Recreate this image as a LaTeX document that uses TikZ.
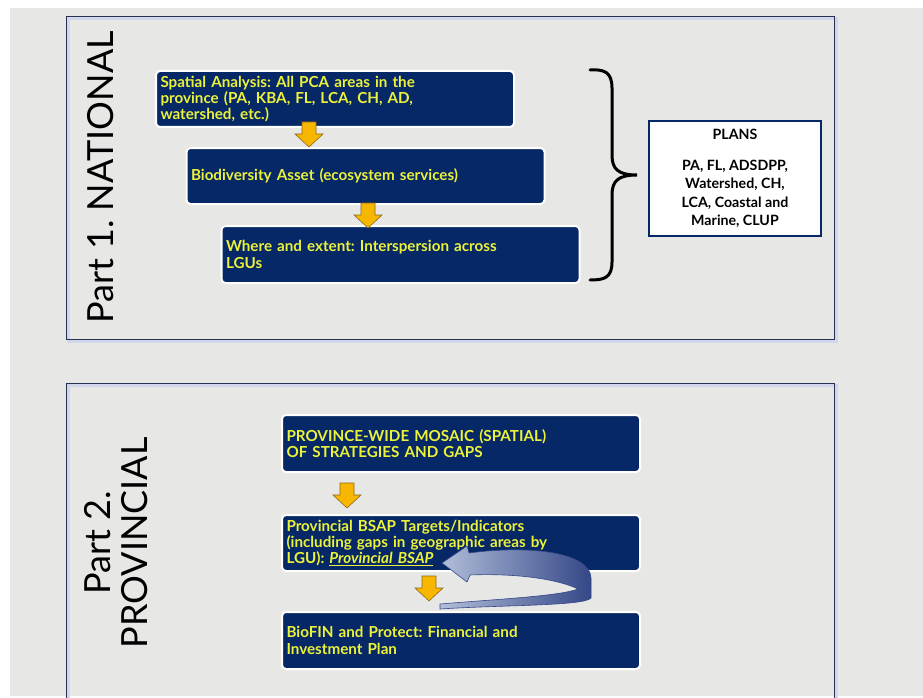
\documentclass[tikz,border=0pt]{standalone}
\usepackage{fontspec}
\setmainfont{Lato}
\frenchspacing
\usetikzlibrary{shadings}
\definecolor{bggray}{RGB}{231,231,229}
\definecolor{navy}{RGB}{6,40,102}
\definecolor{yel}{RGB}{236,242,58}
\definecolor{arrowyel}{RGB}{247,183,0}
\definecolor{arrowedge}{RGB}{140,105,25}
\definecolor{panelline}{RGB}{40,50,80}
\definecolor{panelshade}{RGB}{208,214,236}
\definecolor{loopdark}{RGB}{52,72,135}
\definecolor{looplight}{RGB}{178,190,218}
\begin{document}
\begin{tikzpicture}[x=1pt,y=-1pt,
  navybox/.style={draw=white, line width=2pt, fill=navy, rounded corners=4pt,
    text=yel, font=\bfseries\fontsize{15.2}{16.3}\selectfont, align=left,
    inner xsep=4.5pt, inner ysep=0pt, text width=349pt, minimum height=56pt},
  plansbox/.style={draw=navy, line width=2pt, fill=white, align=center,
    font=\bfseries\fontsize{14.2}{18.3}\selectfont, minimum width=172pt, minimum height=115pt, inner sep=0pt},
  titletext/.style={font=\fontsize{36}{36}\selectfont, text=black, rotate=90, anchor=base, inner sep=0pt},
  panelborder/.style={draw=panelline, line width=1pt},
  panelshadow/.style={draw=panelshade, line width=3pt},
  arrowfill/.style={fill=arrowyel, draw=arrowedge, line width=0.6pt, line join=miter},
  bracestyle/.style={draw=black, line width=3pt, line cap=round},
  blockarrow/.pic={\path[arrowfill] (-7,0) -- (7,0) -- (7,12) -- (14,12) -- (0,25) -- (-14,12) -- (-7,12) -- cycle;}
]
\useasboundingbox (0,0) rectangle (923,698);
\clip (0,0) rectangle (923,698);
\fill[white] (0,0) rectangle (923,698);
\fill[bggray] (10,8) rectangle (923,696);

% panels
\draw[panelshadow] (68,19) rectangle (836,341);
\draw[panelborder] (66,17) rectangle (834,339);
\draw[panelshadow] (68,385) rectangle (836,730);
\draw[panelborder] (66,383) rectangle (834,730);

% titles
\node[titletext] (t1) at (113,177.5) {Part 1. NATIONAL};
\node[titletext] (t2a) at (110,543) {Part 2.};
\node[titletext] (t2b) at (147,543) {PROVINCIAL};

% part 1 boxes
\node[navybox] (b1) at (335,99) {Spatial Analysis: All PCA areas in the\\province (PA, KBA, FL, LCA, CH, AD,\\watershed, etc.)};
\node[navybox] (b2) at (365.5,176) {Biodiversity Asset (ecosystem services)};
\node[navybox, minimum height=57pt] (b3) at (400.5,254.5) {Where and extent: Interspersion across\\LGUs};

\pic at (309,122) {blockarrow};
\pic at (368,203) {blockarrow};

% brace
\draw[bracestyle] (590,70) .. controls (604,69) and (612,72) .. (612,88)
  -- (612,155) .. controls (612,169) and (618,175) .. (637,175)
  .. controls (618,175) and (612,181) .. (612,195)
  -- (612,262) .. controls (612,278) and (604,280) .. (590,280);

% plans
\node[plansbox] (plans) at (735,178.5) {PLANS\\[12.5pt]PA, FL, ADSDPP,\\Watershed, CH,\\LCA, Coastal and\\Marine, CLUP};

% part 2 boxes
\node[navybox, minimum height=57pt] (b4) at (461,443.5) {PROVINCE-WIDE MOSAIC (SPATIAL)\\OF STRATEGIES AND GAPS};
\node[navybox] (b5) at (461,543) {Provincial BSAP Targets/Indicators\\(including gaps in geographic areas by\\LGU): \underline{\textit{Provincial BSAP}}};
\node[navybox, minimum height=57pt] (b6) at (461,640.5) {BioFIN and Protect: Financial and\\Investment Plan};

\pic at (347,483) {blockarrow};
\pic at (429,576) {blockarrow};

% curved feedback arrow
\coordinate (looptip) at (442,563);
\coordinate (looptail) at (440,607);
\shade[left color=looplight, right color=loopdark, draw=loopdark, line width=0.6pt]
  (looptip) -- (467,546) -- (469,553)
  .. controls (530,545) and (590,552) .. (591,578)
  -- (591,598)
  .. controls (585,606) and (500,605) .. (440,609)
  -- (440,604)
  .. controls (500,599) and (560,596) .. (578,589)
  .. controls (560,580) and (520,573) .. (470,575)
  -- (467,582) -- cycle;
\end{tikzpicture}
\end{document}
